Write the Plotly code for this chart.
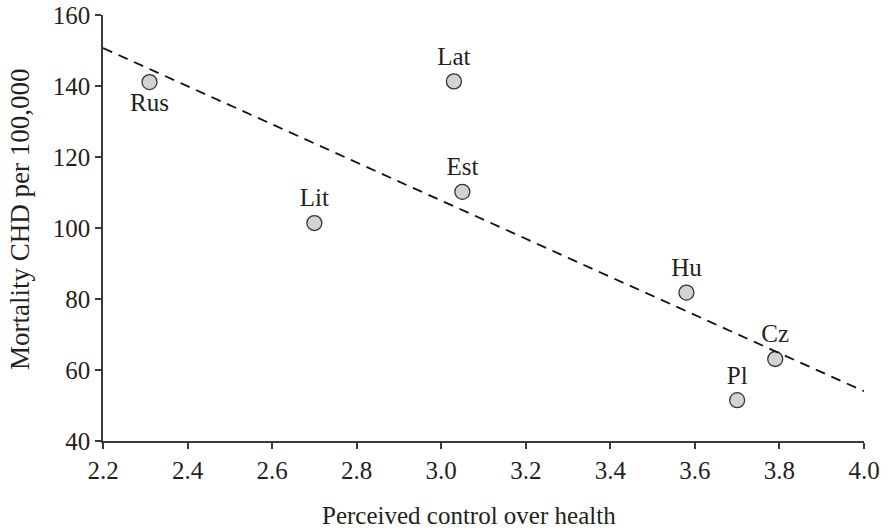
import plotly.graph_objects as go

countries = ["Rus", "Lat", "Est", "Lit", "Hu", "Cz", "Pl"]
control = [2.31, 3.03, 3.05, 2.70, 3.58, 3.79, 3.70]
mortality = [141.1, 141.3, 110.2, 101.4, 81.8, 63.1, 51.5]
label_pos = ["bottom center", "top center", "top center", "top center",
             "top center", "top center", "top center"]

trend_x = [2.2, 4.0]
trend_y = [150.7, 54.0]

x_ticks = [2.2, 2.4, 2.6, 2.8, 3.0, 3.2, 3.4, 3.6, 3.8, 4.0]
x_tick_text = ["2.2", "2.4", "2.6", "2.8", "3.0", "3.2", "3.4", "3.6", "3.8", "4.0"]
y_ticks = [40, 60, 80, 100, 120, 140, 160]

x_title = "Perceived control over health"
y_title = "Mortality CHD per 100,000"

FONT = "Liberation Serif, Times New Roman, serif"
INK = "#231f20"

fig = go.Figure()
fig.add_trace(go.Scatter(
    x=control, y=mortality, mode="markers+text",
    text=countries, textposition=label_pos,
    textfont=dict(family=FONT, size=25, color=INK),
    marker=dict(size=15, color="#d2d3d5", line=dict(width=1.3, color="#333333")),
    cliponaxis=False, showlegend=False,
))
fig.add_trace(go.Scatter(
    x=trend_x, y=trend_y, mode="lines",
    line=dict(color="#111111", width=1.8, dash="10px,7px"),
    showlegend=False, hoverinfo="skip",
))

fig.update_layout(
    width=889, height=532,
    margin=dict(l=103, r=25, t=15, b=91),
    paper_bgcolor="white", plot_bgcolor="white",
    font=dict(family=FONT, size=25, color=INK),
    annotations=[
        dict(text=x_title, xref="paper", yref="paper", x=0.481, y=-0.174,
             xanchor="center", yanchor="middle", showarrow=False,
             font=dict(family=FONT, size=25, color=INK)),
        dict(text=y_title, xref="paper", yref="paper", x=-0.109, y=0.519,
             xanchor="center", yanchor="middle", showarrow=False, textangle=-90,
             font=dict(family=FONT, size=27, color=INK)),
    ],
)
fig.update_xaxes(
    range=[2.2, 4.0], tickvals=x_ticks, ticktext=x_tick_text,
    showgrid=False, zeroline=False, automargin=False,
    showline=True, linecolor="#3a3a3a", linewidth=1.5,
    ticks="outside", ticklen=6, tickwidth=1.5, tickcolor="#3a3a3a",
    tickfont=dict(family=FONT, size=25, color=INK),
)
fig.update_yaxes(
    range=[40, 160], tickvals=y_ticks,
    showgrid=False, zeroline=False, automargin=False,
    showline=True, linecolor="#3a3a3a", linewidth=1.5,
    ticks="outside", ticklen=6, tickwidth=1.5, tickcolor="#3a3a3a",
    tickfont=dict(family=FONT, size=25, color=INK),
)

fig.write_html("out.html")
